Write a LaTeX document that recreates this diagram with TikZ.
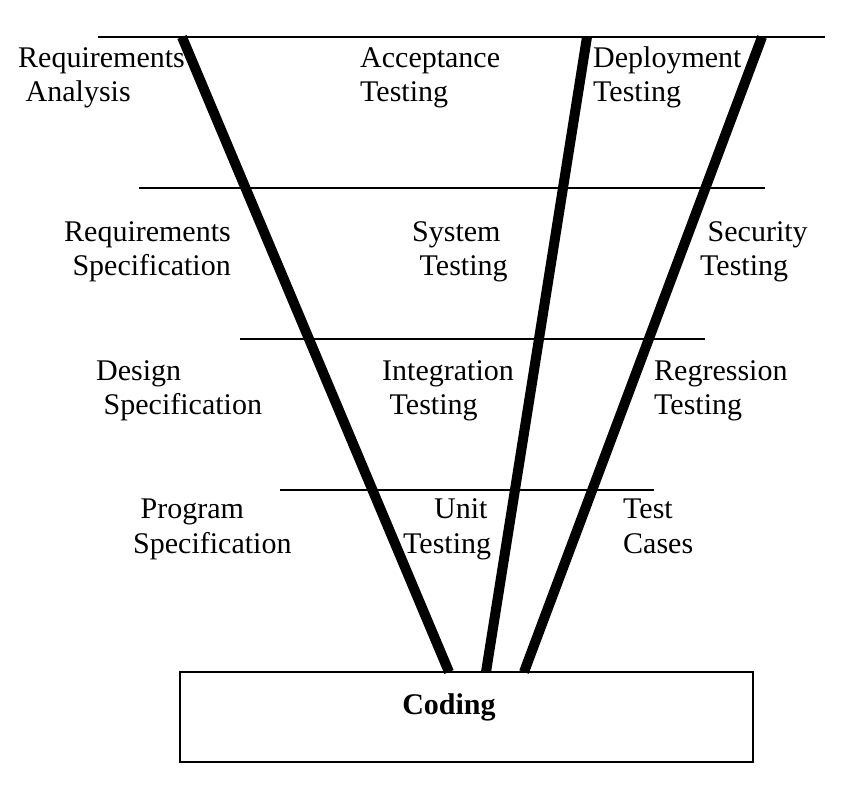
\documentclass[tikz,border=0pt]{standalone}
\usepackage{fontspec}
\setmainfont{Liberation Serif}
\usetikzlibrary{positioning}
\tikzset{
  % Phase / testing labels (anchored on the baseline of the last line)
  phase/.style={
    font=\fontsize{30}{34.5}\selectfont,
    inner sep=0pt, align=left, anchor=base west
  },
  % Thin level rules
  levelrule/.style={line width=1.8pt},
  % Thick V legs
  vleg/.style={line width=10pt},
  % Coding box
  codebox/.style={
    draw, line width=1.8pt, inner sep=0pt,
    minimum width=573pt, minimum height=90pt
  },
  codetext/.style={
    font=\fontsize{30}{34.5}\selectfont\bfseries,
    inner sep=0pt, anchor=base
  },
}

\begin{document}
\begin{tikzpicture}[x=1pt, y=-1pt]

  \useasboundingbox (0,0) rectangle (852,786);

  %% ── Level rules ──
  \draw[levelrule] (98,37)  -- (825,37);
  \draw[levelrule] (139,188) -- (765,188);
  \draw[levelrule] (240,339) -- (705,339);
  \draw[levelrule] (280,490) -- (654,490);

  %% ── Coding box ──
  \node[codebox] (codingBox) at (466.5,717) {};
  \node[codetext] (coding) at (449,714) {Coding};

  %% ── Leg ends ──
  \coordinate (devTop)  at (182,37);
  \coordinate (devFoot) at (449,672);
  \coordinate (testTop)  at (587,37);
  \coordinate (testFoot) at (486,672);
  \coordinate (opsTop)  at (762,37);
  \coordinate (opsFoot) at (524,672);

  %% ── Labels ──
  \node[phase] (reqAna)   at (18,102)  {Requirements\\\ Analysis};
  \node[phase] (accTest)  at (360,102) {Acceptance\\Testing};
  \node[phase] (depTest)  at (593,102) {Deployment\\Testing};

  \node[phase, align=right, anchor=base east] (reqSpec) at (231,276) {Requirements\\Specification};
  \node[phase] (sysTest)  at (412,276) {System\\\ Testing};
  \node[phase] (secTest)  at (700,276) {\ Security\\Testing};

  \node[phase] (desSpec)  at (96,415)  {Design\\\ Specification};
  \node[phase] (intTest)  at (382,415) {Integration\\\ Testing};
  \node[phase] (regTest)  at (654,415) {Regression\\Testing};

  \node[phase] (progSpec)  at (133,553) {\ Program\\Specification};
  \node[phase] (unitTest)  at (403,553) {\hspace*{31pt}Unit\\Testing};
  \node[phase] (testCases) at (623,553) {Test\\Cases};

  %% ── V legs ──
  \draw[vleg] (devTop)  -- (devFoot);
  \draw[vleg] (testTop) -- (testFoot);
  \draw[vleg] (opsTop)  -- (opsFoot);

\end{tikzpicture}
\end{document}
